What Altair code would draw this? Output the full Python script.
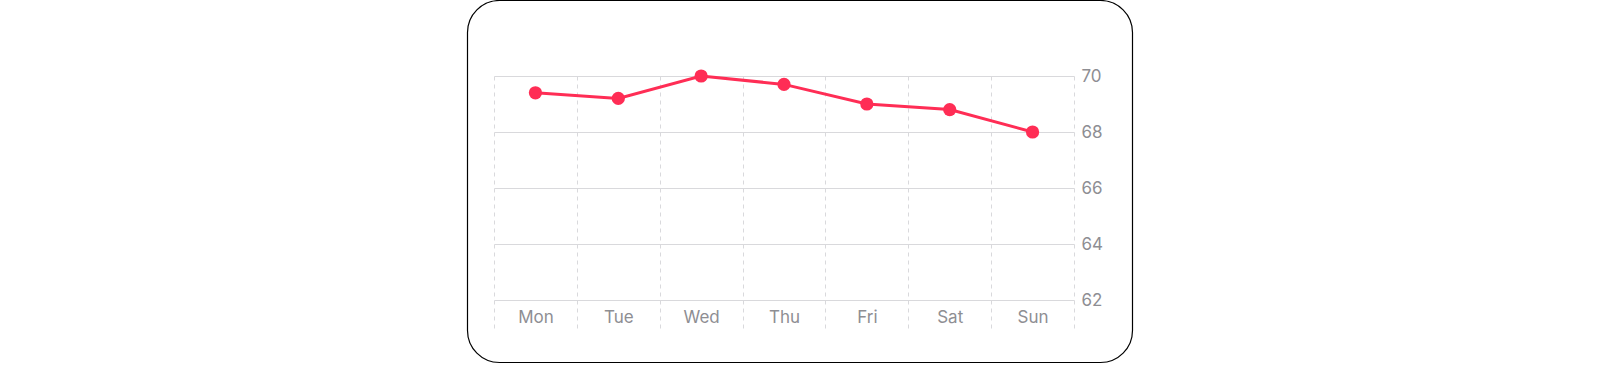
import altair as alt
import pandas as pd

days = ["Mon", "Tue", "Wed", "Thu", "Fri", "Sat", "Sun"]
values = [69.4, 69.2, 70.0, 69.7, 69.0, 68.8, 68.0]
y_ticks = [62, 64, 66, 68, 70]

df = pd.DataFrame({"day": days, "value": values})

W, H = 580, 252
RED = "#FF2D55"
GREY = "#8E8E93"
GRID = "#D9D9DC"
FONT = "Inter"

x_enc = alt.X(
    "day:N", sort=days, title=None,
    scale=alt.Scale(paddingInner=0, paddingOuter=0),
    axis=alt.Axis(
        orient="bottom", offset=-28, domain=False, ticks=False,
        labelAngle=0, labelPadding=9, labelFontSize=17, labelColor=GREY,
        labelFont=FONT, grid=True, gridDash=[4, 4], gridColor=GRID,
        gridWidth=1, tickBand="extent",
    ),
)
y_enc = alt.Y(
    "value:Q", title=None,
    scale=alt.Scale(domain=[61, 70], nice=False, zero=False),
    axis=alt.Axis(
        orient="right", values=y_ticks, domain=False, ticks=False,
        labelPadding=7, labelFontSize=17, labelColor=GREY, labelFont=FONT,
        grid=True, gridColor=GRID, gridWidth=1, labelBaseline="middle",
    ),
)

card = alt.Chart(pd.DataFrame({"k": [0]})).mark_rect(
    fill="white", fillOpacity=0, stroke="black", strokeWidth=1.2, cornerRadius=32
).encode(
    x=alt.value(-26.5), x2=alt.value(638.5),
    y=alt.value(-75.5), y2=alt.value(286.5),
)

base = alt.Chart(df)
line = base.mark_line(color=RED, strokeWidth=3).encode(x=x_enc, y=y_enc)
pts = base.mark_point(filled=True, color=RED, size=175, opacity=1).encode(x=x_enc, y=y_enc)

chart = alt.layer(card, line, pts).properties(
    width=W, height=H,
    background="white",
    autosize=alt.AutoSizeParams(type="none"),
    padding={"left": 494, "top": 76, "right": 526, "bottom": 37},
).configure_view(stroke="transparent", strokeWidth=0)

chart.save("out.html", embed_options={"renderer": "svg", "actions": False})
